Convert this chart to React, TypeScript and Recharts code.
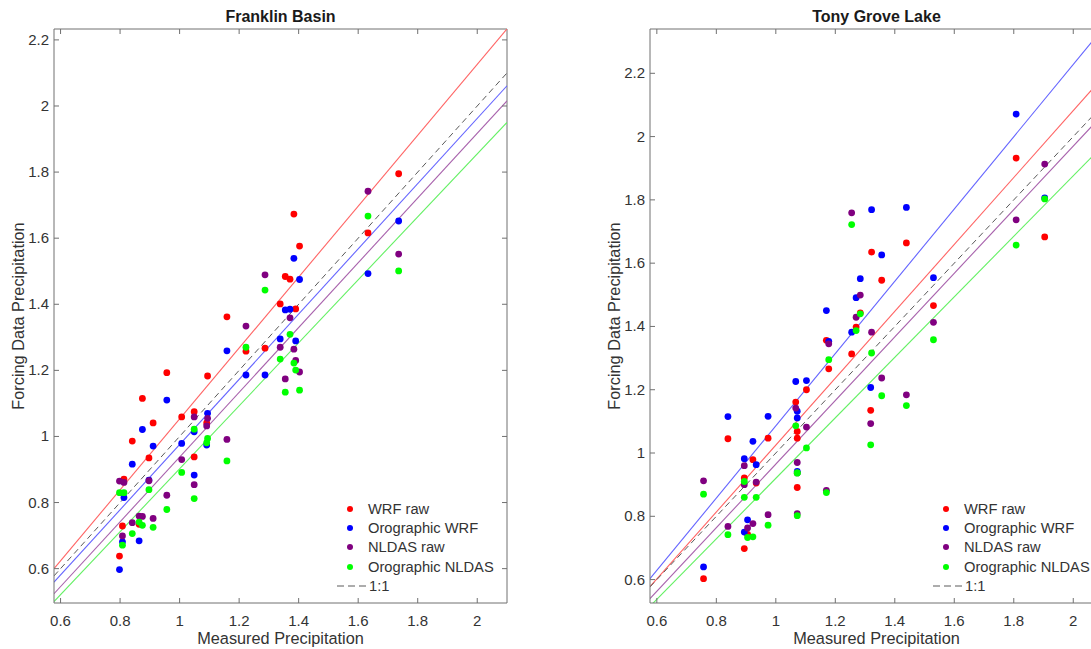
import { ScatterChart, Scatter, XAxis, YAxis, ReferenceLine } from "recharts";

// Franklin Basin
const fbMeasured = [0.798, 0.808, 0.813, 0.841, 0.864, 0.875, 0.897, 0.911, 0.957, 1.007, 1.049, 1.049, 1.091, 1.094, 1.159, 1.223, 1.287, 1.338, 1.355, 1.371, 1.384, 1.39, 1.403, 1.633, 1.736];
const fbWrfRaw = [0.638, 0.729, 0.871, 0.986, 0.734, 1.115, 0.935, 1.041, 1.193, 1.059, 1.075, 0.938, 1.041, 1.183, 1.362, 1.258, 1.267, 1.401, 1.484, 1.476, 1.673, 1.386, 1.576, 1.616, 1.795];
const fbOroWrf = [0.597, 0.681, 0.815, 0.916, 0.684, 1.021, 0.868, 0.971, 1.11, 0.979, 1.014, 0.883, 0.974, 1.07, 1.259, 1.186, 1.186, 1.295, 1.383, 1.385, 1.539, 1.289, 1.475, 1.493, 1.652];
const fbNldasRaw = [0.865, 0.699, 0.861, 0.739, 0.759, 0.758, 0.866, 0.752, 0.822, 0.93, 1.059, 0.854, 1.032, 1.055, 0.991, 1.334, 1.489, 1.27, 1.174, 1.359, 1.264, 1.23, 1.195, 1.742, 1.552];
const fbOroNldas = [0.83, 0.671, 0.83, 0.706, 0.741, 0.731, 0.839, 0.725, 0.779, 0.891, 1.022, 0.812, 0.981, 0.994, 0.926, 1.27, 1.443, 1.234, 1.134, 1.309, 1.222, 1.201, 1.14, 1.667, 1.501];
// fitted lines [slope, intercept], same order as the series
const fbFits = [[1.073, -0.02], [0.987, -0.0115], [0.98, -0.0424], [0.953, -0.0508]];

// Tony Grove Lake
const tgMeasured = [0.757, 0.839, 0.894, 0.894, 0.905, 0.923, 0.934, 0.974, 1.067, 1.072, 1.072, 1.072, 1.103, 1.17, 1.178, 1.255, 1.27, 1.284, 1.322, 1.319, 1.356, 1.439, 1.53, 1.808, 1.904];
const tgWrfRaw = [0.603, 1.045, 0.921, 0.698, 0.743, 0.979, 0.905, 1.047, 1.161, 1.068, 1.047, 0.891, 1.2, 1.356, 1.266, 1.313, 1.398, 1.443, 1.635, 1.135, 1.546, 1.664, 1.466, 1.932, 1.683];
const tgOroWrf = [0.64, 1.115, 0.982, 0.75, 0.789, 1.037, 0.963, 1.116, 1.226, 1.132, 1.111, 0.942, 1.229, 1.45, 1.353, 1.382, 1.491, 1.551, 1.769, 1.207, 1.626, 1.776, 1.554, 2.071, 1.806];
const tgNldasRaw = [0.912, 0.768, 0.96, 0.9, 0.763, 0.777, 0.908, 0.805, 1.142, 0.97, 0.808, 0.937, 1.082, 0.882, 1.345, 1.759, 1.429, 1.499, 1.382, 1.093, 1.237, 1.184, 1.413, 1.737, 1.913];
const tgOroNldas = [0.87, 0.742, 0.91, 0.86, 0.733, 0.735, 0.86, 0.772, 1.086, 0.937, 0.802, 0.937, 1.016, 0.875, 1.295, 1.722, 1.387, 1.44, 1.316, 1.026, 1.181, 1.15, 1.358, 1.657, 1.803];
const tgFits = [[1.057, -0.032], [1.142, -0.056], [1.005, -0.04], [0.956, -0.036]];

const seriesNames = ["WRF raw", "Orographic WRF", "NLDAS raw", "Orographic NLDAS"];
const xTicks = [0.6, 0.8, 1, 1.2, 1.4, 1.6, 1.8, 2];
const yTicks = [0.6, 0.8, 1, 1.2, 1.4, 1.6, 1.8, 2, 2.2];

const dotColors = ["#ff0000", "#0000ff", "#800080", "#00ff00"];
const fitColors = ["#ff6464", "#6464ff", "#a862ac", "#64f064"];
const axisColor = "#707070";
const textColor = "#333333";
const font = "'Liberation Sans', Arial, sans-serif";

// panel geometry (chart coordinates)
const W = 560;
const H = 649;
const plotLeft = 90;
const plotTop = 29;
const plotW = 453;
const plotH = 574;
const plotBottom = plotTop + plotH;
const plotRight = plotLeft + plotW;

interface PanelProps {
  left: number;
  title: string;
  measured: number[];
  series: number[][];
  fits: number[][];
  xDomain: [number, number];
  yDomain: [number, number];
}

function XTick(props: any) {
  const { x, payload } = props;
  return (
    <g>
      <line x1={x} x2={x} y1={plotBottom} y2={plotBottom - 5} stroke={axisColor} />
      <line x1={x} x2={x} y1={plotTop} y2={plotTop + 5} stroke={axisColor} />
      <text x={x} y={plotBottom + 23} textAnchor="middle" fontSize={15} fontFamily={font} fill={textColor}>
        {String(payload.value)}
      </text>
    </g>
  );
}

function YTick(props: any) {
  const { y, payload } = props;
  return (
    <g>
      <line x1={plotLeft} x2={plotLeft + 5} y1={y} y2={y} stroke={axisColor} />
      <line x1={plotRight} x2={plotRight - 5} y1={y} y2={y} stroke={axisColor} />
      <text x={plotLeft - 5} y={y + 5} textAnchor="end" fontSize={15} fontFamily={font} fill={textColor}>
        {String(payload.value)}
      </text>
    </g>
  );
}

function Panel({ left, title, measured, series, fits, xDomain, yDomain }: PanelProps) {
  const [x0, x1] = xDomain;
  const center = plotLeft + plotW / 2;
  return (
    <div style={{ position: "absolute", left, top: 0, width: W, height: H }}>
      <ScatterChart
        width={W}
        height={H}
        margin={{ top: plotTop, left: plotLeft - 40, right: W - plotRight, bottom: H - plotBottom - 30 }}
      >
        <XAxis
          type="number"
          dataKey="x"
          domain={xDomain}
          allowDataOverflow
          ticks={xTicks}
          interval={0}
          tickSize={0}
          tickLine={false}
          tick={XTick}
          axisLine={{ stroke: axisColor }}
          height={30}
        />
        <YAxis
          type="number"
          dataKey="y"
          domain={yDomain}
          allowDataOverflow
          ticks={yTicks}
          interval={0}
          tickSize={0}
          tickLine={false}
          tick={YTick}
          axisLine={{ stroke: axisColor }}
          width={40}
        />
        <ReferenceLine y={yDomain[1]} stroke={axisColor} ifOverflow="visible" />
        <ReferenceLine x={xDomain[1]} stroke={axisColor} ifOverflow="visible" />
        {fits.map(([m, b], i) => (
          <ReferenceLine
            key={"fit" + i}
            segment={[{ x: x0, y: m * x0 + b }, { x: x1, y: m * x1 + b }]}
            stroke={fitColors[i]}
            strokeWidth={1.1}
            ifOverflow="hidden"
          />
        ))}
        <ReferenceLine
          segment={[{ x: x0, y: x0 }, { x: x1, y: x1 }]}
          stroke="#5a5a5a"
          strokeDasharray="6 4"
          ifOverflow="hidden"
        />
        {series.map((vals, i) => (
          <Scatter
            key={seriesNames[i]}
            name={seriesNames[i]}
            data={measured.map((x, j) => ({ x, y: vals[j] }))}
            fill={dotColors[i]}
            isAnimationActive={false}
            shape={(p: any) => <circle cx={p.cx} cy={p.cy} r={3.4} fill={dotColors[i]} />}
          />
        ))}
      </ScatterChart>

      {/* title and axis labels */}
      <div
        style={{
          position: "absolute", left: center, top: 16.5, transform: "translate(-50%, -50%)",
          fontWeight: "bold", fontSize: 16, whiteSpace: "nowrap", color: "#1a1a1a",
        }}
      >
        {title}
      </div>
      <div
        style={{
          position: "absolute", left: center, top: 638, transform: "translate(-50%, -50%)",
          fontSize: 16.3, whiteSpace: "nowrap", color: textColor,
        }}
      >
        Measured Precipitation
      </div>
      <div
        style={{
          position: "absolute", left: 54, top: plotTop + plotH / 2,
          transform: "translate(-50%, -50%) rotate(-90deg)",
          fontSize: 16.3, whiteSpace: "nowrap", color: textColor,
        }}
      >
        Forcing Data Precipitation
      </div>

      {/* legend */}
      {seriesNames.map((name, i) => (
        <div
          key={name}
          style={{ position: "absolute", left: plotLeft + 293, top: 509 + i * 19.2 - 9, height: 18, display: "flex", alignItems: "center" }}
        >
          <span style={{ width: 6, height: 6, borderRadius: 3, background: dotColors[i], marginRight: 15 }} />
          <span style={{ fontSize: 14.7, color: textColor, whiteSpace: "nowrap" }}>{name}</span>
        </div>
      ))}
      <div
        style={{ position: "absolute", left: plotLeft + 283, top: 585.7 - 9, height: 18, display: "flex", alignItems: "center" }}
      >
        <svg width={32} height={4} style={{ marginRight: 0 }}>
          <line x1={0} x2={32} y1={2} y2={2} stroke="#5a5a5a" strokeDasharray="7 4" />
        </svg>
        <span style={{ fontSize: 14.7, color: textColor }}>1:1</span>
      </div>
    </div>
  );
}

export default function App() {
  return (
    <div
      style={{
        position: "absolute", left: 0, top: 0, width: 1091, height: 649,
        overflow: "hidden", background: "#fff", fontFamily: font,
      }}
    >
      <Panel
        left={54 - plotLeft}
        title="Franklin Basin"
        measured={fbMeasured}
        series={[fbWrfRaw, fbOroWrf, fbNldasRaw, fbOroNldas]}
        fits={fbFits}
        xDomain={[0.578, 2.1]}
        yDomain={[0.496, 2.233]}
      />
      <Panel
        left={650 - plotLeft}
        title="Tony Grove Lake"
        measured={tgMeasured}
        series={[tgWrfRaw, tgOroWrf, tgNldasRaw, tgOroNldas]}
        fits={tgFits}
        xDomain={[0.577, 2.1]}
        yDomain={[0.526, 2.34]}
      />
    </div>
  );
}
